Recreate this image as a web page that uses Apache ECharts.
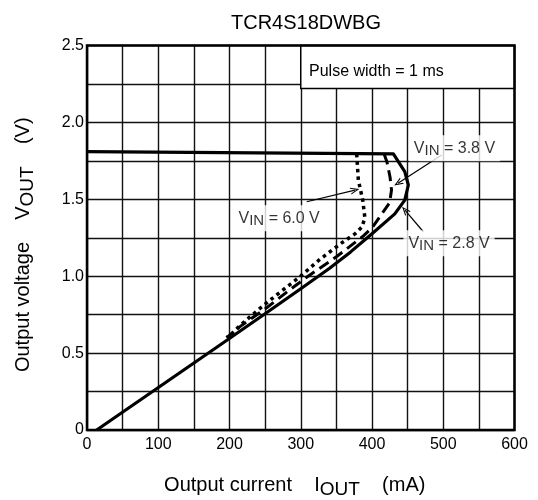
<!DOCTYPE html>
<html><head><meta charset="utf-8">
<script src="https://cdn.jsdelivr.net/npm/echarts@6/dist/echarts.min.js"></script>
<style>html,body{margin:0;padding:0;background:#fff}#c{width:538px;height:500px}</style>
</head><body><div id="c"></div>
<script>
// ---- data (mA, V) ----
const titleText = 'TCR4S18DWBG';
const xStep = 50, xLabelStep = 100;
const yStep = 0.25, yLabelStep = 0.5;
const vin28 = [[0,1.81],[430,1.795],[446,1.68],[451,1.593],[446,1.495],[432,1.405],[400,1.276],[370,1.158],[340,1.05],[300,0.918],[247.4,0.748],[186.7,0.553],[13.6,0]];
const vin38 = [[417,1.795],[421,1.743],[425.3,1.645],[427.4,1.56],[424.6,1.476],[416,1.42],[401,1.32],[388,1.262],[350.5,1.128],[308.8,0.995],[281.4,0.9],[252.2,0.795],[214.7,0.672],[196,0.6]];
const vin60 = [[378.5,1.795],[380.8,1.626],[387,1.495],[390,1.38],[386,1.32],[376,1.275],[357,1.215],[327,1.11],[298.9,0.997],[266.2,0.878],[242.8,0.791],[214.7,0.68],[203,0.625],[196,0.6]];
const labelNames = ['3.8','2.8','6.0'];
const labelPts = [[515.8,1.832],[508.1,1.214],[269.7,1.376]];
const arrowFrom = [[497.8,1.788],[472,1.289],[308.4,1.484]];
const arrowTo = [[436.5,1.605],[446.3,1.43],[376.1,1.56]];
const pulseBox = [[300,2.22],[600,2.5]];
const pulseText = 'Pulse width = 1 ms';

const FF = 'Liberation Sans, Arial, sans-serif';
const chart = echarts.init(document.getElementById('c'));
const isMult = (v, s) => Math.abs(v / s - Math.round(v / s)) < 1e-6;
const subRich = { sub: { fontSize: 19, fontFamily: FF, color: '#000', padding: [8, 0, 0, 0] } };
const chevron = 'path://M5,0 L10,10 L8.4,10 L5,3.2 L1.6,10 L0,10 Z';

chart.setOption({
  animation: false,
  backgroundColor: '#fff',
  title: { text: titleText, left: 301, top: 8, textAlign: 'center',
    textStyle: { fontFamily: FF, fontSize: 20, fontWeight: 'normal', color: '#000' } },
  grid: { left: 87, right: 23.5, top: 45.5, bottom: 70, containLabel: false, outerBoundsMode: 'none',
    show: true, borderColor: '#000', borderWidth: 2.5, z: 10 },
  xAxis: {
    type: 'value', min: 0, max: 600, interval: xStep,
    name: 'Output current    I{sub|OUT}    (mA)', nameLocation: 'middle', nameGap: 42,
    nameTextStyle: { fontFamily: FF, fontSize: 20, color: '#000', padding: [0, 12, 0, 0], rich: subRich },
    axisLine: { show: false }, axisTick: { show: false },
    axisLabel: { fontFamily: FF, fontSize: 16, color: '#000', margin: 7,
      formatter: v => isMult(v, xLabelStep) ? String(v) : '' },
    splitLine: { show: true, lineStyle: { color: '#111', width: 1.4 } }
  },
  yAxis: {
    type: 'value', min: 0, max: 2.5, interval: yStep,
    name: 'Output voltage    V{sub|OUT}    (V)', nameLocation: 'middle', nameGap: 50,
    nameTextStyle: { fontFamily: FF, fontSize: 20, color: '#000', padding: [0, 14, 0, 0], rich: subRich },
    axisLine: { show: false }, axisTick: { show: false },
    axisLabel: { fontFamily: FF, fontSize: 16, color: '#000', margin: 3,
      formatter: v => isMult(v, yLabelStep) ? (v === 0 ? '0' : v.toFixed(1)) : '' },
    splitLine: { show: true, lineStyle: { color: '#111', width: 1.4 } }
  },
  series: [
    { type: 'line', name: 'box', data: [], z: 2,
      markArea: { silent: true, z: 2,
        itemStyle: { color: '#fff', borderColor: '#000', borderWidth: 1.5 },
        label: { show: true, position: 'insideLeft', distance: 9, offset: [0, 5],
          fontFamily: FF, fontSize: 16, color: '#000', formatter: pulseText },
        data: [[{ coord: pulseBox[0] }, { coord: pulseBox[1] }]] } },
    { type: 'line', name: 'VIN=6.0V', data: vin60, symbol: 'none', z: 3,
      lineStyle: { color: '#000', width: 3.5, type: [3.5, 4], cap: 'butt' } },
    { type: 'line', name: 'VIN=3.8V', data: vin38, symbol: 'none', z: 3,
      lineStyle: { color: '#000', width: 3, type: [11, 6], cap: 'butt' } },
    { type: 'line', name: 'VIN=2.8V', data: vin28, symbol: 'none', z: 4,
      lineStyle: { color: '#000', width: 3.2, join: 'round' } },
    { type: 'line', name: 'arrows', data: [], z: 5,
      markLine: { silent: true, symbol: ['none', chevron], symbolSize: [7, 9],
        lineStyle: { color: '#000', width: 1.2, type: 'solid' }, label: { show: false },
        data: arrowFrom.map((p, i) => [{ coord: p }, { coord: arrowTo[i] }]) } },
    { type: 'scatter', name: 'labels', z: 6, symbolSize: 0,
      data: labelPts.map((p, i) => ({ value: p, name: labelNames[i] })),
      label: { show: true, position: 'inside', backgroundColor: '#fff', padding: [3, 5],
        fontFamily: FF, fontSize: 16, color: '#000',
        formatter: p => '{v|V}{s|IN}{v| = ' + p.name + ' V}',
        rich: { v: { fontFamily: FF, fontSize: 16, color: '#000' },
                s: { fontFamily: FF, fontSize: 15, color: '#000', padding: [5, 0, 0, 0] } } } }
  ]
});
</script></body></html>
